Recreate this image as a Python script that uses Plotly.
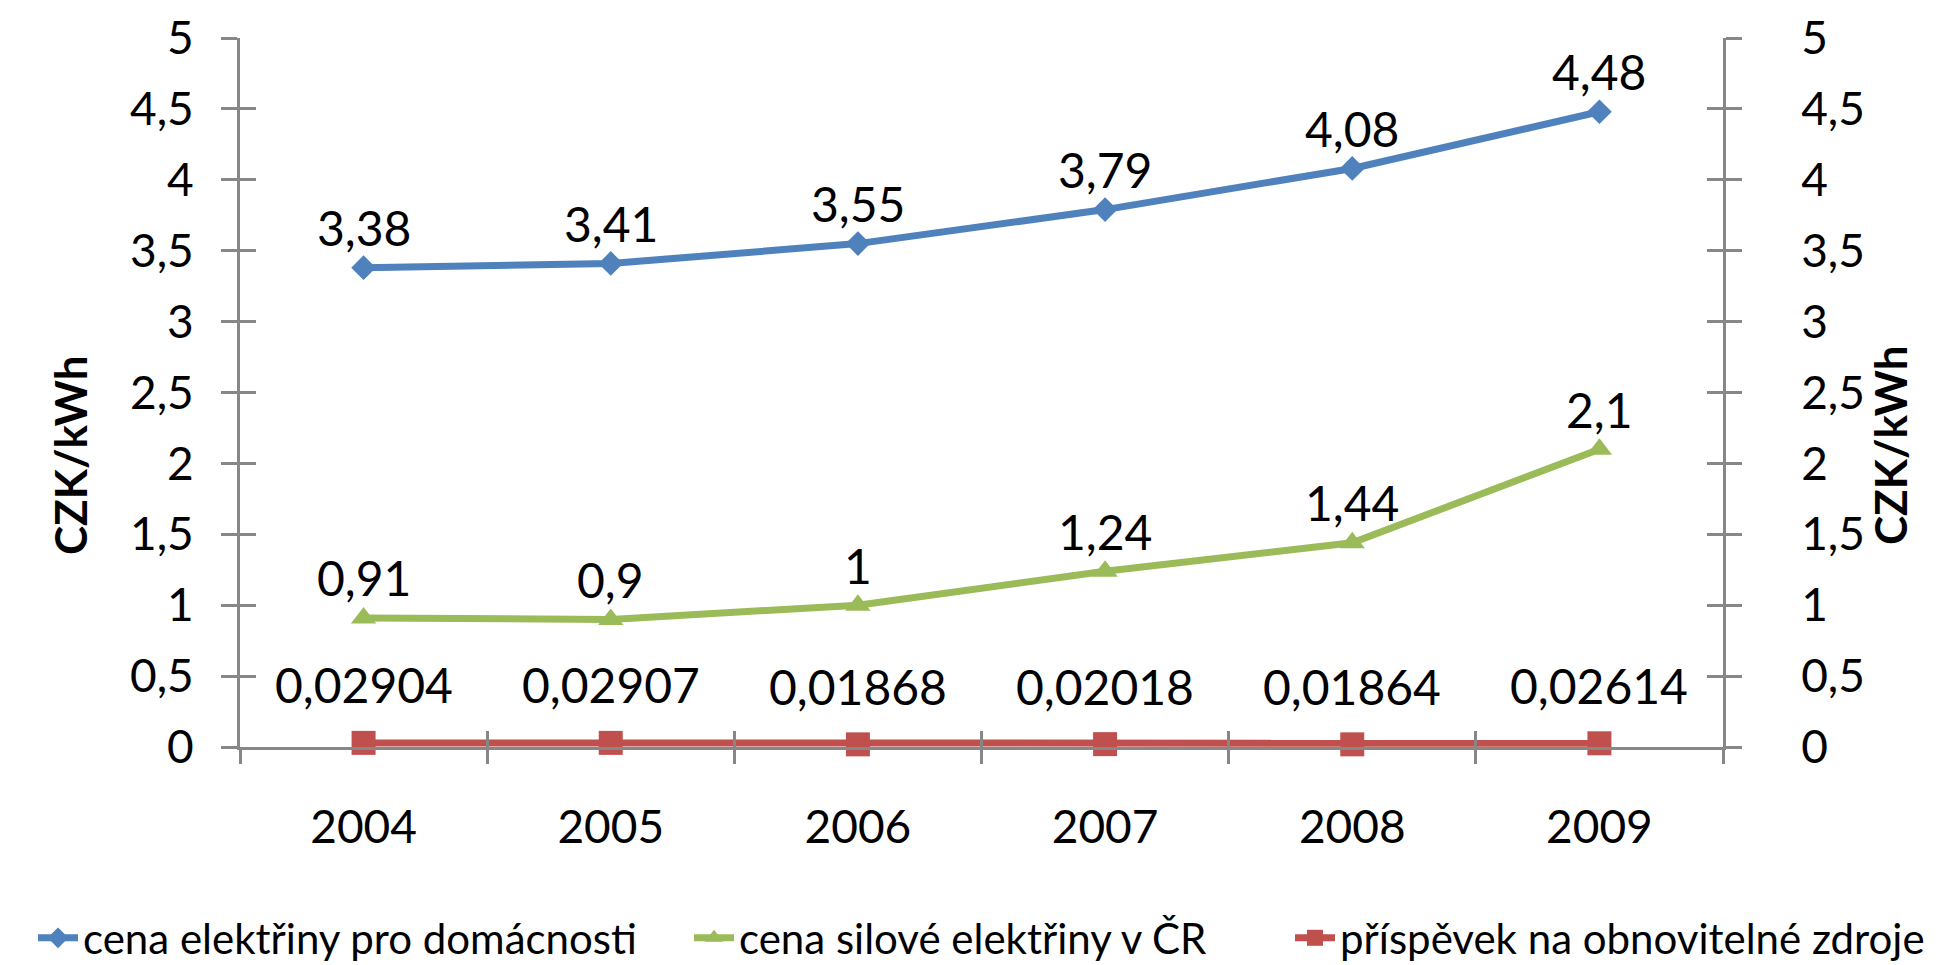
import plotly.graph_objects as go

# Categories and series values (CZK/kWh)
years = ["2004", "2005", "2006", "2007", "2008", "2009"]
household_price = [3.38, 3.41, 3.55, 3.79, 4.08, 4.48]
power_price = [0.91, 0.9, 1.0, 1.24, 1.44, 2.1]
renewables_fee = [0.02904, 0.02907, 0.01868, 0.02018, 0.01864, 0.02614]

series_names = [
    "cena elektřiny pro domácnosti",
    "cena silové elektřiny v ČR",
    "příspěvek na obnovitelné zdroje",
]

y_tick_values = [0, 0.5, 1, 1.5, 2, 2.5, 3, 3.5, 4, 4.5, 5]
y_tick_labels = ["0", "0,5", "1", "1,5", "2", "2,5", "3", "3,5", "4", "4,5", "5"]
axis_title = "CZK/kWh"

FONT = "Lato"
AXIS_GREY = "#878787"
TICK_FONT = dict(family=FONT, size=46, color="#000000")
LABEL_FONT = dict(family=FONT, size=48, color="#000000")

W, H = 1948, 965
L, R, T, B = 240, 225, 38, 218
pw, ph = W - L - R, H - T - B


def px_to_paper_x(px):
    return (px - L) / pw


def px_to_paper_y(py):
    return (H - B - py) / ph


x_pos = list(range(len(years)))
boundaries = [i - 0.5 for i in range(len(years) + 1)]


def label(v):
    return f"{v:g}".replace(".", ",")


styles = [
    dict(values=household_price, color="#4F81BD", symbol="diamond", size=19, shift=40,
         legend="legend", legend_text_x=83),
    dict(values=power_price, color="#9BBB59", symbol="triangle-up", size=22, shift=40,
         legend="legend2", legend_text_x=739),
    dict(values=renewables_fee, color="#C0504D", symbol="square", size=24, shift=58,
         legend="legend3", legend_text_x=1340),
]

fig = go.Figure()
annotations = []
for name, st in zip(series_names, styles):
    fig.add_trace(go.Scatter(
        x=x_pos, y=st["values"], name=name, mode="lines+markers",
        line=dict(color=st["color"], width=7),
        marker=dict(symbol=st["symbol"], size=st["size"], color=st["color"],
                    line=dict(width=0)),
        cliponaxis=False, legend=st["legend"],
    ))
    for xi, v in zip(x_pos, st["values"]):
        annotations.append(dict(
            x=xi, y=v, xref="x", yref="y", text=label(v), showarrow=False,
            yshift=st["shift"], font=LABEL_FONT,
        ))

# Empty traces so the overlay axes get drawn with their labels
for xa, ya in [("x", "y2"), ("x", "y3"), ("x", "y4"), ("x2", "y"), ("x3", "y")]:
    fig.add_trace(go.Scatter(x=[None], y=[None], xaxis=xa, yaxis=ya, mode="markers",
                             showlegend=False, hoverinfo="skip"))

# Rotated axis titles on both sides
title_font = dict(family=FONT, size=44, color="#000000")
for tx, ty in [(70, 455), (1890, 445)]:
    annotations.append(dict(x=px_to_paper_x(tx), y=px_to_paper_y(ty), xref="paper", yref="paper",
                            xanchor="center", yanchor="middle",
                            text=f"<b>{axis_title}</b>", showarrow=False, textangle=-90,
                            font=title_font))

yrange = [0, 5]
xrange = [-0.5, len(years) - 0.5]

common_y = dict(range=yrange, tickvals=y_tick_values, ticktext=y_tick_labels,
                showgrid=False, zeroline=False, tickcolor=AXIS_GREY, tickwidth=3,
                ticklen=16, fixedrange=True)
common_x = dict(range=xrange, showgrid=False, zeroline=False, tickcolor=AXIS_GREY,
                tickwidth=3, ticklen=16, fixedrange=True)

legend_common = dict(orientation="h", xanchor="left", y=px_to_paper_y(938), yanchor="middle",
                     font=dict(family=FONT, size=42, color="#000000"),
                     itemwidth=40, itemclick=False, bgcolor="rgba(0,0,0,0)")
legends = {}
for st in styles:
    legends[st["legend"]] = dict(**legend_common, x=px_to_paper_x(st["legend_text_x"] - 50))

fig.update_layout(
    width=W, height=H,
    margin=dict(l=L, r=R, t=T, b=B, pad=0, autoexpand=False),
    paper_bgcolor="#FFFFFF", plot_bgcolor="#FFFFFF",
    font=dict(family=FONT, color="#000000"),
    showlegend=True,
    annotations=annotations,
    xaxis=dict(**common_x, tickvals=x_pos, ticktext=years, ticks="",
               showline=True, linecolor=AXIS_GREY, linewidth=3,
               tickfont=TICK_FONT, ticklabelstandoff=38),
    xaxis2=dict(**common_x, overlaying="x", anchor="y", tickvals=boundaries,
                ticks="outside", showticklabels=False, showline=False),
    xaxis3=dict(**common_x, overlaying="x", anchor="y", tickvals=boundaries,
                ticks="inside", showticklabels=False, showline=False),
    yaxis=dict(**common_y, side="left", ticks="outside", showline=True,
               linecolor=AXIS_GREY, linewidth=3, tickfont=TICK_FONT,
               ticklabelstandoff=18),
    yaxis2=dict(**common_y, side="right", overlaying="y", anchor="x", ticks="outside",
                showline=True, linecolor=AXIS_GREY, linewidth=3, tickfont=TICK_FONT,
                ticklabelstandoff=50),
    yaxis3=dict(**common_y, side="left", overlaying="y", anchor="x", ticks="inside",
                showticklabels=False, showline=False),
    yaxis4=dict(**common_y, side="right", overlaying="y", anchor="x", ticks="inside",
                showticklabels=False, showline=False),
    **legends,
)

fig.write_html("out.html")
